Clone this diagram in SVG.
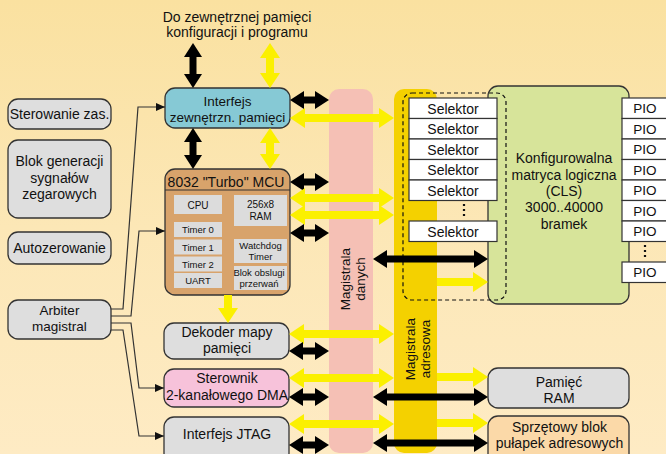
<svg xmlns="http://www.w3.org/2000/svg" width="666" height="454" viewBox="0 0 666 454">
  <defs>
    <linearGradient id="bg" x1="0" y1="0" x2="0" y2="1">
      <stop offset="0" stop-color="#FAE1A0"/>
      <stop offset="0.5" stop-color="#FCE7B6"/>
      <stop offset="1" stop-color="#FEEBC4"/>
    </linearGradient>
    <!-- heads for thick bus arrows (base sits on the line end, tip 14px beyond) -->
    <marker id="hb" viewBox="0 0 14 18" refX="1" refY="9" markerWidth="14" markerHeight="18" markerUnits="userSpaceOnUse" orient="auto-start-reverse">
      <path d="M0,0 L14,9 L0,18 z" fill="#000"/>
    </marker>
    <marker id="hy" viewBox="0 0 15 20" refX="1" refY="10" markerWidth="15" markerHeight="20" markerUnits="userSpaceOnUse" orient="auto-start-reverse">
      <path d="M0,0 L15,10 L0,20 z" fill="#FBF000"/>
    </marker>
    <!-- small head for thin control wires -->
    <marker id="hw" viewBox="0 0 9 8" refX="9" refY="4" markerWidth="9" markerHeight="8" markerUnits="userSpaceOnUse" orient="auto">
      <path d="M0,0 L9,4 L0,8 z" fill="#111"/>
    </marker>
  </defs>
  <style>
    text { font-family: "Liberation Sans", Arial, sans-serif; fill: #111; text-anchor: middle; }
    .t14 { font-size: 14px; }
    .t13 { font-size: 13.5px; }
    .t10 { font-size: 10px; }
    .t9 { font-size: 9.5px; }
    .box { stroke: #333; stroke-width: 1.3; }
    .grey { fill: #DEDEDE; }
    .inner { fill: #DCDCDC; }
    .cell { fill: #FFFFFF; stroke: #333; stroke-width: 1.2; }
    .ab { stroke: #000; stroke-width: 7; fill: none; marker-start: url(#hb); marker-end: url(#hb); }
    .ay { stroke: #FBF000; stroke-width: 8; fill: none; marker-start: url(#hy); marker-end: url(#hy); }
    .ay1 { stroke: #FBF000; stroke-width: 8; fill: none; marker-end: url(#hy); }
    .wire { stroke: #333; stroke-width: 1.2; fill: none; marker-end: url(#hw); }
    .dots { stroke: #111; stroke-width: 2.2; stroke-dasharray: 2 3; }
  </style>

  <rect width="666" height="454" fill="url(#bg)"/>

  <!-- system buses -->
  <g id="bus-data">
    <rect x="329" y="89" width="44" height="364" rx="10" fill="#F5C0B5"/>
    <text class="t13" transform="translate(351,279) rotate(-90)"><tspan x="0" y="-1">Magistrala</tspan><tspan x="0" y="14">danych</tspan></text>
  </g>
  <g id="bus-addr">
    <rect x="394" y="89" width="43" height="364" rx="10" fill="#F4D100"/>
    <text class="t13" transform="translate(415,349) rotate(-90)"><tspan x="0" y="0">Magistrala</tspan><tspan x="0" y="15">adresowa</tspan></text>
  </g>

  <g id="ext-mem-label">
    <text class="t14" x="237" y="22">Do zewnętrznej pamięci</text>
    <text class="t14" x="237" y="37">konfiguracji i programu</text>
  </g>

  <!-- left column -->
  <g id="power-ctrl">
    <rect class="box grey" x="8" y="99" width="103" height="30" rx="10"/>
    <text class="t14" x="59.5" y="119">Sterowanie zas.</text>
  </g>
  <g id="clock-gen">
    <rect class="box grey" x="8" y="140" width="103" height="78" rx="10"/>
    <text class="t14" x="59.5" y="166">Blok generacji</text>
    <text class="t14" x="59.5" y="182.5">sygnałów</text>
    <text class="t14" x="59.5" y="199">zegarowych</text>
  </g>
  <g id="auto-reset">
    <rect class="box grey" x="8" y="232" width="103" height="32" rx="10"/>
    <text class="t14" x="59.5" y="253">Autozerowanie</text>
  </g>
  <g id="bus-arbiter">
    <rect class="box grey" x="8" y="300" width="103" height="39" rx="10"/>
    <text class="t13" x="59.5" y="315">Arbiter</text>
    <text class="t13" x="59.5" y="331">magistral</text>
  </g>

  <!-- centre column -->
  <g id="ext-mem-if">
    <rect class="box" x="165" y="88" width="125" height="40" rx="10" fill="#86C9D5"/>
    <text class="t13" x="227.5" y="106">Interfejs</text>
    <text class="t13" x="227.5" y="122">zewnętrzn. pamięci</text>
  </g>
  <g id="mcu">
    <rect class="box" x="165" y="169" width="125" height="126" rx="10" fill="#D8A36B"/>
    <line x1="165" y1="190" x2="290" y2="190" stroke="#333" stroke-width="1.2"/>
    <text class="t14" x="226" y="187">8032 "Turbo" MCU</text>
    <rect class="inner" x="174" y="195" width="48" height="19"/>
    <text class="t10" x="198" y="208.5">CPU</text>
    <rect class="inner" x="234" y="195" width="53" height="31"/>
    <text class="t10" x="260.5" y="208">256x8</text>
    <text class="t10" x="260.5" y="220">RAM</text>
    <rect class="inner" x="174" y="222" width="48" height="15"/>
    <text class="t9" x="198" y="233">Timer 0</text>
    <rect class="inner" x="174" y="239.5" width="48" height="15"/>
    <text class="t9" x="198" y="250.5">Timer 1</text>
    <rect class="inner" x="174" y="256.5" width="48" height="15"/>
    <text class="t9" x="198" y="267.5">Timer 2</text>
    <rect class="inner" x="174" y="273" width="48" height="15"/>
    <text class="t9" x="198" y="284">UART</text>
    <rect class="inner" x="234" y="239" width="53" height="24"/>
    <text class="t9" x="260.5" y="249">Watchdog</text>
    <text class="t9" x="260.5" y="260">Timer</text>
    <rect class="inner" x="234" y="266" width="53" height="24"/>
    <text class="t9" x="259" y="275.5">Blok obslugi</text>
    <text class="t9" x="259" y="286.5">przerwań</text>
  </g>
  <g id="mem-decoder">
    <rect class="box grey" x="164" y="323" width="125" height="36" rx="10"/>
    <text class="t14" x="227" y="337">Dekoder mapy</text>
    <text class="t14" x="227" y="353">pamięci</text>
  </g>
  <g id="dma">
    <rect class="box" x="164" y="369" width="125" height="38" rx="10" fill="#F7C2DA"/>
    <text class="t14" x="227" y="383">Sterownik</text>
    <text class="t14" x="227" y="400">2-kanałowego DMA</text>
  </g>
  <g id="jtag">
    <rect class="box grey" x="164" y="417" width="125" height="46" rx="10"/>
    <text class="t14" x="227" y="439">Interfejs JTAG</text>
  </g>

  <!-- configurable logic -->
  <g id="cls">
    <rect class="box" x="488" y="86" width="141" height="218" rx="10" fill="#D7E49A"/>
    <text class="t14" x="564" y="163">Konfigurowalna</text>
    <text class="t14" x="564" y="179.5">matryca logiczna</text>
    <text class="t14" x="564" y="196">(CLS)</text>
    <text class="t14" x="564" y="212">3000..40000</text>
    <text class="t14" x="564" y="228.5">bramek</text>
  </g>
  <g id="selectors">
    <rect class="cell" x="409" y="98" width="88" height="20.5"/>
    <text class="t14" x="453" y="113.5">Selektor</text>
    <rect class="cell" x="409" y="118.5" width="88" height="20.5"/>
    <text class="t14" x="453" y="134">Selektor</text>
    <rect class="cell" x="409" y="139" width="88" height="20.5"/>
    <text class="t14" x="453" y="154.5">Selektor</text>
    <rect class="cell" x="409" y="159.5" width="88" height="20.5"/>
    <text class="t14" x="453" y="175">Selektor</text>
    <rect class="cell" x="409" y="180" width="88" height="20.5"/>
    <text class="t14" x="453" y="195.5">Selektor</text>
    <line class="dots" x1="464" y1="204" x2="464" y2="217"/>
    <rect class="cell" x="409" y="221" width="88" height="20.5"/>
    <text class="t14" x="453" y="236.5">Selektor</text>
  </g>
  <g id="cls-frame">
    <rect x="403" y="93" width="103" height="207" rx="9" fill="none" stroke="#111" stroke-width="1.2" stroke-dasharray="4 3"/>
  </g>
  <g id="pio">
    <rect class="cell" x="622" y="98" width="50" height="20.5"/>
    <text class="t13" x="645" y="113">PIO</text>
    <rect class="cell" x="622" y="118.5" width="50" height="20.5"/>
    <text class="t13" x="645" y="133.5">PIO</text>
    <rect class="cell" x="622" y="139" width="50" height="20.5"/>
    <text class="t13" x="645" y="154">PIO</text>
    <rect class="cell" x="622" y="159.5" width="50" height="20.5"/>
    <text class="t13" x="645" y="174.5">PIO</text>
    <rect class="cell" x="622" y="180" width="50" height="20.5"/>
    <text class="t13" x="645" y="195">PIO</text>
    <rect class="cell" x="622" y="200.5" width="50" height="20.5"/>
    <text class="t13" x="645" y="215.5">PIO</text>
    <rect class="cell" x="622" y="221" width="50" height="20.5"/>
    <text class="t13" x="645" y="236">PIO</text>
    <line class="dots" x1="645" y1="245" x2="645" y2="258"/>
    <rect class="cell" x="622" y="262" width="50" height="20.5"/>
    <text class="t13" x="645" y="277">PIO</text>
  </g>

  <!-- right column -->
  <g id="ram">
    <rect class="box grey" x="488" y="368" width="141" height="40" rx="10"/>
    <text class="t14" x="559" y="387">Pamięć</text>
    <text class="t14" x="559" y="403">RAM</text>
  </g>
  <g id="trap-block">
    <rect class="box" x="488" y="416" width="141" height="48" rx="10" fill="#FBD9A8"/>
    <text class="t14" x="559.5" y="432">Sprzętowy blok</text>
    <text class="t14" x="559.5" y="448">pułapek adresowych</text>
  </g>

  <!-- connectors -->
  <g id="connectors">
    <!-- external memory links -->
    <line class="ab" x1="193" y1="56" x2="193" y2="75"/>
    <line class="ay" x1="270" y1="57" x2="270" y2="74"/>
    <line class="ab" x1="193" y1="141" x2="193" y2="156"/>
    <line class="ay" x1="270" y1="142" x2="270" y2="155"/>
    <line class="ay1" x1="228" y1="295" x2="228" y2="309"/>

    <!-- interface / MCU to buses -->
    <line class="ab" x1="303" y1="100" x2="316" y2="100"/>
    <line class="ay" x1="304" y1="118" x2="380" y2="118"/>
    <line class="ab" x1="303" y1="182" x2="316" y2="182"/>
    <line class="ay" x1="304" y1="198" x2="380" y2="198"/>
    <line class="ay" x1="304" y1="215" x2="380" y2="215"/>
    <line class="ab" x1="303" y1="233" x2="316" y2="233"/>

    <!-- buses to CLS -->
    <line class="ab" x1="386" y1="259" x2="475" y2="259"/>
    <line class="ay1" x1="437" y1="282" x2="474" y2="282"/>

    <!-- peripherals to buses -->
    <line class="ay" x1="303" y1="334" x2="380" y2="334"/>
    <line class="ab" x1="302" y1="351" x2="316" y2="351"/>
    <line class="ay" x1="303" y1="378" x2="380" y2="378"/>
    <line class="ab" x1="302" y1="397" x2="316" y2="397"/>
    <line class="ay" x1="303" y1="424" x2="380" y2="424"/>
    <line class="ab" x1="302" y1="445" x2="316" y2="445"/>

    <!-- buses to RAM and trap block -->
    <line class="ay1" x1="437" y1="377" x2="474" y2="377"/>
    <line class="ab" x1="386" y1="397" x2="475" y2="397"/>
    <line class="ay1" x1="437" y1="423" x2="474" y2="423"/>
    <line class="ab" x1="386" y1="443" x2="475" y2="443"/>

    <!-- arbiter control wires -->
    <path class="wire" d="M111,309 H123 L138,107 H165"/>
    <path class="wire" d="M111,316 H131 L139,231 H165"/>
    <path class="wire" d="M111,323 H131 L139,388 H164"/>
    <path class="wire" d="M111,330 H123 L139,436 H164"/>
  </g>
</svg>
